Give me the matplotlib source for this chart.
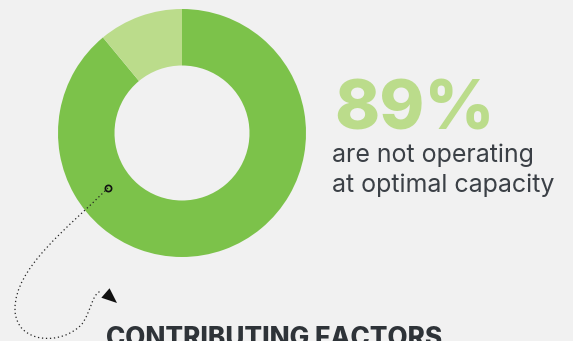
import matplotlib
matplotlib.use("Agg")
import matplotlib.pyplot as plt
from matplotlib.path import Path
from matplotlib.patches import FancyArrowPatch, PathPatch

# Data
labels = ["Not operating at optimal capacity", "Operating at optimal capacity"]
values = [89, 11]
colors = ["#7cc24a", "#bbdc8b"]
headline = "89%"
subtitle_lines = ["are not operating", "at optimal capacity"]
section_title = "CONTRIBUTING FACTORS"

W, H = 573, 341
BG = "#f1f1f1"
fig = plt.figure(figsize=(W / 100, H / 100), dpi=100, facecolor=BG)
ax = fig.add_axes([0, 0, 1, 1])
ax.set_facecolor(BG)

def Y(y):
    return H - y

# donut
cx, cy, R, r_in = 182, 133, 124, 67.5
ax.pie(values, colors=colors, startangle=90, counterclock=False,
       center=(cx, Y(cy)), radius=R, frame=True,
       wedgeprops=dict(width=R - r_in, edgecolor="none", linewidth=0))

ax.set_xlim(0, W)
ax.set_ylim(0, H)
ax.set_aspect("equal")
ax.axis("off")

# dotted connector
pts = [(108, 188), (68, 228), (14, 268), (15, 310),
       (16, 344), (62, 346), (82, 324),
       (92, 310), (92, 292), (102, 291)]
codes = [Path.MOVETO] + [Path.CURVE4] * 9
path = Path([(x, Y(y)) for x, y in pts], codes)
ax.add_patch(PathPatch(path, fill=False, edgecolor="#222222", linewidth=0.9,
                       linestyle=(0, (1, 2.2)), zorder=5))
head = FancyArrowPatch((102, Y(290)), (117, Y(303)),
                       arrowstyle="-|>,head_length=11,head_width=4.5",
                       mutation_scale=1, color="#111111", linewidth=0,
                       shrinkA=0, shrinkB=0, zorder=6)
ax.add_patch(head)
ax.plot([108], [Y(188)], marker="o", markersize=4.5, markerfacecolor="none",
        markeredgecolor="#111111", markeredgewidth=1.2, zorder=6)

# texts
ax.text(334, Y(130), headline, fontsize=49, fontweight=800, family="Inter",
        color="#bbdc8b", ha="left", va="baseline")
ax.text(332, Y(162), subtitle_lines[0], fontsize=18, fontweight=400, family="Inter",
        color="#3b4046", ha="left", va="baseline")
ax.text(332, Y(192), subtitle_lines[1], fontsize=18, fontweight=400, family="Inter",
        color="#3b4046", ha="left", va="baseline")
ax.text(106, Y(346), section_title, fontsize=18.8, fontweight=800, family="Inter",
        color="#2e3338", ha="left", va="baseline")

fig.savefig("out.png", dpi=100, facecolor=BG)
